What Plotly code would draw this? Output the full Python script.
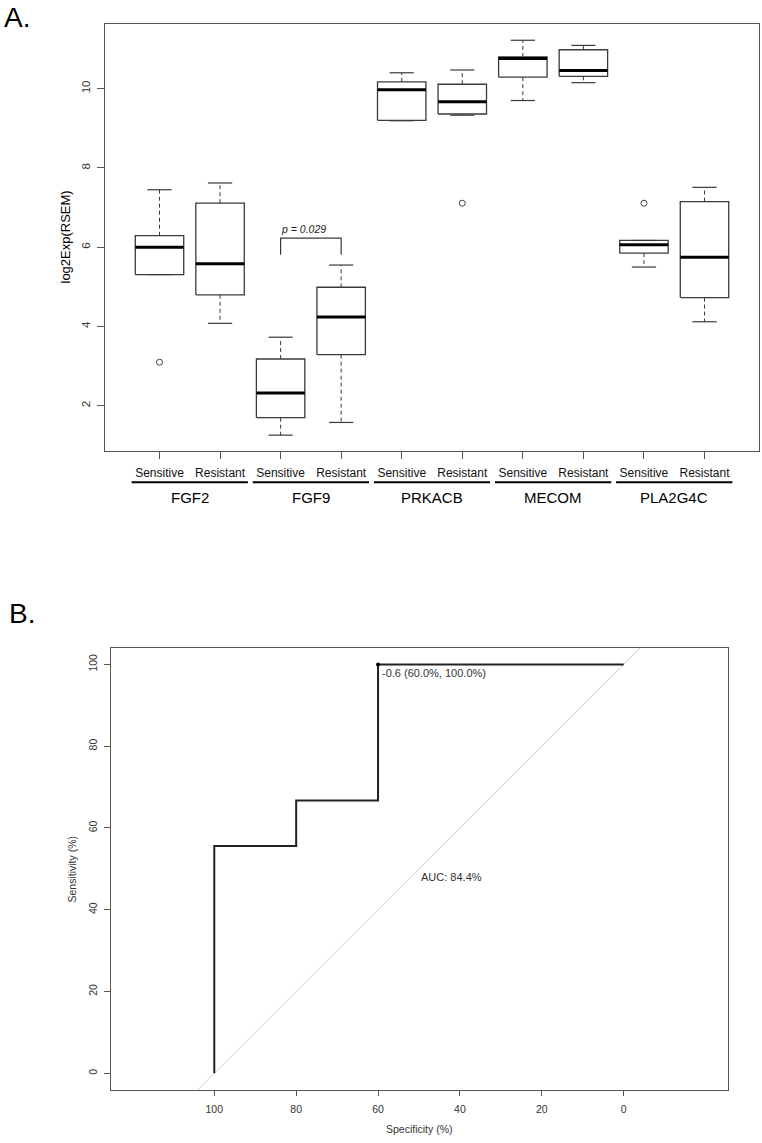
import plotly.graph_objects as go

# target picture size in px (page body margin is removed after plotting)
W, H = 762, 1143

# ---- panel A data: box stats ----
genes = ["FGF2", "FGF9", "PRKACB", "MECOM", "PLA2G4C"]
groups = ["Sensitive", "Resistant"] * 5
lower_whisker = [5.31, 4.08, 1.26, 1.58, 9.19, 9.33, 9.70, 10.15, 5.50, 4.12]
q1 = [5.31, 4.80, 1.70, 3.29, 9.20, 9.36, 10.29, 10.31, 5.85, 4.73]
median = [6.00, 5.58, 2.32, 4.24, 9.97, 9.67, 10.76, 10.46, 6.06, 5.75]
q3 = [6.29, 7.11, 3.18, 4.99, 10.17, 10.11, 10.80, 10.98, 6.17, 7.15]
upper_whisker = [7.45, 7.62, 3.73, 5.55, 10.40, 10.47, 11.22, 11.09, 6.17, 7.51]
outlier_box = [1, 6, 9]
outlier_val = [3.10, 7.11, 7.11]
p_text = "p = 0.029"
p_pair = [3, 4]
p_bracket = [5.81, 6.23]

# ---- panel B data: ROC curve ----
specificity = [100, 100, 80, 80, 60, 60, 0]
sensitivity = [0, 55.6, 55.6, 66.7, 66.7, 100, 100]
best_spec, best_sens = 60, 100
best_label = "-0.6 (60.0%, 100.0%)"
auc_label = "AUC: 84.4%"

FONT = "Liberation Sans, Arial, sans-serif"
BOX_W = 0.8
CAP_W = 0.4
LINE_C = "#3a3a3a"
AX_C = "#555555"


# pixel positions measured on the reference -> paper coords
def px_x(v):
    return v / W


def px_y(v):
    return 1 - v / H


pos = list(range(1, len(groups) + 1))

rx, ry, mx, my, wx, wy, cx, cy = [], [], [], [], [], [], [], []
for i, x in enumerate(pos):
    l, r = x - BOX_W / 2, x + BOX_W / 2
    rx += [l, r, r, l, l, None]
    ry += [q1[i], q1[i], q3[i], q3[i], q1[i], None]
    mx += [l, r, None]
    my += [median[i], median[i], None]
    if upper_whisker[i] > q3[i]:
        wx += [x, x, None]
        wy += [q3[i], upper_whisker[i], None]
    if lower_whisker[i] < q1[i]:
        wx += [x, x, None]
        wy += [q1[i], lower_whisker[i], None]
    for v in (upper_whisker[i], lower_whisker[i]):
        cx += [x - CAP_W / 2, x + CAP_W / 2, None]
        cy += [v, v, None]

fig = go.Figure()

fig.add_trace(go.Scatter(x=wx, y=wy, mode="lines", line=dict(color=LINE_C, width=1, dash="4px,3px"),
                         xaxis="x", yaxis="y", hoverinfo="skip"))
fig.add_trace(go.Scatter(x=cx, y=cy, mode="lines", line=dict(color=LINE_C, width=1.2),
                         xaxis="x", yaxis="y", hoverinfo="skip"))
fig.add_trace(go.Scatter(x=rx, y=ry, mode="lines", line=dict(color=LINE_C, width=1.3),
                         xaxis="x", yaxis="y", hoverinfo="skip"))
fig.add_trace(go.Scatter(x=mx, y=my, mode="lines", line=dict(color="#000000", width=3),
                         xaxis="x", yaxis="y", hoverinfo="skip"))
fig.add_trace(go.Scatter(x=outlier_box, y=outlier_val, mode="markers",
                         marker=dict(symbol="circle-open", size=6, color="#444444", line=dict(width=1)),
                         xaxis="x", yaxis="y"))

# significance bracket
fig.add_trace(go.Scatter(x=[p_pair[0], p_pair[0], p_pair[1], p_pair[1]],
                         y=[p_bracket[0], p_bracket[1], p_bracket[1], p_bracket[0]],
                         mode="lines", line=dict(color=LINE_C, width=1.2), xaxis="x", yaxis="y"))

# ROC panel
y_lo, y_hi = -4.08, 104.08
fig.add_trace(go.Scatter(x=[100 - y_lo, 100 - y_hi], y=[y_lo, y_hi], mode="lines",
                         line=dict(color="#cccccc", width=1), xaxis="x2", yaxis="y2"))
fig.add_trace(go.Scatter(x=specificity, y=sensitivity, mode="lines",
                         line=dict(color="#222222", width=2), xaxis="x2", yaxis="y2"))
fig.add_trace(go.Scatter(x=[best_spec], y=[best_sens], mode="markers",
                         marker=dict(color="#000000", size=4), xaxis="x2", yaxis="y2"))

tick_font = dict(family=FONT, size=11.5, color="#333333")
axis_common = dict(showgrid=False, zeroline=False, showline=True, mirror=True,
                   linecolor=AX_C, linewidth=1.3, ticks="outside", ticklen=7,
                   tickcolor=AX_C, tickwidth=1)

fig.update_layout(
    width=W, height=H,
    margin=dict(l=0, r=0, t=0, b=0),
    paper_bgcolor="white", plot_bgcolor="white",
    showlegend=False,
    font=dict(family=FONT, color="#000000"),
    xaxis=dict(domain=[px_x(105), px_x(759)], range=[0.1, 10.9], tickvals=pos, ticktext=groups,
               tickfont=dict(family=FONT, size=12, color="#111111"), anchor="y",
               ticklabelstandoff=3, **axis_common),
    yaxis=dict(domain=[px_y(451), px_y(24)], range=[0.86, 11.63], tickvals=[2, 4, 6, 8, 10],
               tickangle=-90, tickfont=tick_font, anchor="x", ticklabelstandoff=2, **axis_common),
    xaxis2=dict(domain=[px_x(110.7), px_x(727.7)], range=[125.3, -25.4],
                tickvals=[100, 80, 60, 40, 20, 0], tickfont=dict(family=FONT, size=10.5, color="#333333"),
                anchor="y2", ticklabelstandoff=4, **{**axis_common, "ticklen": 5}),
    yaxis2=dict(domain=[px_y(1090), px_y(647.7)], range=[y_lo, y_hi],
                tickvals=[0, 20, 40, 60, 80, 100], tickangle=-90,
                tickfont=dict(family=FONT, size=10.5, color="#333333"),
                anchor="x2", ticklabelstandoff=2, **{**axis_common, "ticklen": 6}),
)

ann = []
ann.append(dict(text="A.", x=px_x(2), y=1, xref="paper", yref="paper", xanchor="left",
                yanchor="top", showarrow=False, font=dict(size=28, color="#000000")))
ann.append(dict(text="B.", x=px_x(7), y=px_y(596), xref="paper", yref="paper", xanchor="left",
                yanchor="top", showarrow=False, font=dict(size=28, color="#000000")))
ann.append(dict(text="log2Exp(RSEM)", x=px_x(65), y=px_y(237.5), xref="paper", yref="paper",
                xanchor="center", yanchor="middle", textangle=-90, showarrow=False, font=dict(size=13)))
ann.append(dict(text="<i>" + p_text + "</i>", x=sum(p_pair) / 2 - 0.13, y=p_bracket[1], xref="x", yref="y",
                xanchor="center", yanchor="bottom", yshift=1, showarrow=False,
                font=dict(size=10.5, color="#222222")))

shapes = []
for g, gene in enumerate(genes):
    c = (pos[2 * g] + pos[2 * g + 1]) / 2
    shapes.append(dict(type="line", xref="x", yref="paper", x0=c - 0.96, x1=c + 0.96,
                       y0=px_y(482.3), y1=px_y(482.3), line=dict(color="#000000", width=2)))
    ann.append(dict(text=gene, x=c, y=px_y(497.3), xref="x", yref="paper", xanchor="center",
                    yanchor="middle", showarrow=False, font=dict(size=15, color="#000000")))

ann.append(dict(text=best_label, x=best_spec, y=best_sens, xref="x2", yref="y2", xanchor="left",
                yanchor="top", xshift=2, yshift=-1, showarrow=False, font=dict(size=11, color="#333333")))
ann.append(dict(text=auc_label, x=50, y=50, xref="x2", yref="y2", xanchor="left", yanchor="top",
                showarrow=False, font=dict(size=11, color="#333333")))
ann.append(dict(text="Sensitivity (%)", x=px_x(71.5), y=px_y(869), xref="paper", yref="paper",
                xanchor="center", yanchor="middle", textangle=-90, showarrow=False,
                font=dict(size=10.5, color="#333333")))
ann.append(dict(text="Specificity (%)", x=px_x(419), y=px_y(1129), xref="paper", yref="paper",
                xanchor="center", yanchor="middle", showarrow=False, font=dict(size=10.5, color="#333333")))

fig.update_layout(annotations=ann, shapes=shapes)

# drop the browser's default 8px body margin so paper px == page px
fig.write_html("out.html", config={"displayModeBar": False},
               post_script="document.body.style.margin='0px';")
